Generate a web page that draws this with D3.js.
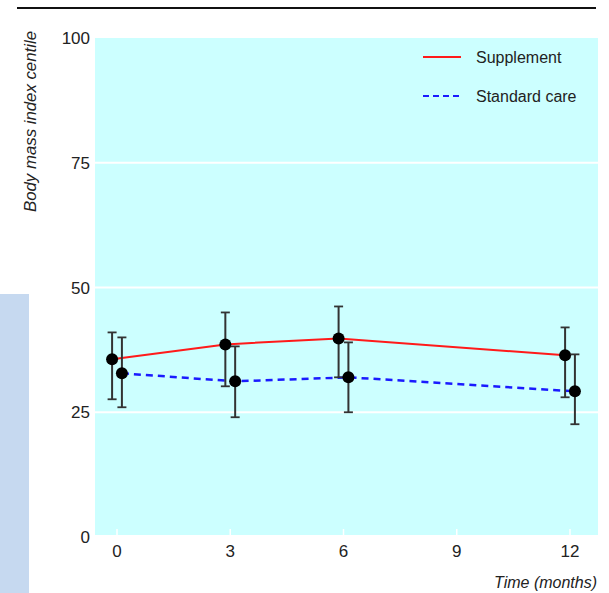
<!DOCTYPE html>
<html>
<head>
<meta charset="utf-8">
<script src="https://cdn.jsdelivr.net/npm/d3@7"></script>
<style>
body { margin: 0; background: #fff; }
svg { display: block; font-family: "Liberation Sans Narrow", "Arial Narrow", "Liberation Sans", sans-serif; }
</style>
</head>
<body>
<div id="chart"></div>
<script>
// data
var months = [0, 3, 6, 12];
var xTicks = [0, 3, 6, 9, 12];
var yTicks = [0, 25, 50, 75, 100];

var supMean = [35.6, 38.6, 39.8, 36.4];
var supHigh = [41, 45, 46.2, 42];
var supLow = [27.6, 30.2, 32, 28];

var stdMean = [32.8, 31.2, 32, 29.2];
var stdHigh = [40, 38.2, 39, 36.6];
var stdLow = [26, 24, 25, 22.6];

var seriesNames = ["Supplement", "Standard care"];

var W = 609, H = 593;
var panel = { left: 95, right: 598, top: 38, bottom: 535 };

var svg = d3.select("#chart").append("svg")
	.attr("width", W)
	.attr("height", H);

// top rule
svg.append("line")
	.attr("x1", 17).attr("x2", 596)
	.attr("y1", 8).attr("y2", 8)
	.style("stroke", "#111")
	.style("stroke-width", 2);

// pale block on the left
svg.append("rect")
	.attr("x", 0).attr("y", 294)
	.attr("width", 29).attr("height", H - 294)
	.style("fill", "#c6d9f0");

var x = d3.scaleLinear().domain([0, 12]).range([117, 570]);
var y = d3.scaleLinear().domain([0, 100]).range([537, 38]);

// panel background
svg.append("rect")
	.attr("x", panel.left).attr("y", panel.top)
	.attr("width", panel.right - panel.left)
	.attr("height", panel.bottom - panel.top)
	.style("fill", "#ccffff");

// white gridlines
svg.selectAll(".grid")
	.data([25, 50, 75])
	.enter().append("line")
	.attr("class", "grid")
	.attr("x1", panel.left).attr("x2", panel.right)
	.attr("y1", function(d) { return y(d); })
	.attr("y2", function(d) { return y(d); })
	.style("stroke", "#fff")
	.style("stroke-width", 2);

// white ticks at bottom of panel
svg.selectAll(".xtick")
	.data(xTicks)
	.enter().append("line")
	.attr("class", "xtick")
	.attr("x1", function(d) { return x(d); })
	.attr("x2", function(d) { return x(d); })
	.attr("y1", panel.bottom - 6).attr("y2", panel.bottom)
	.style("stroke", "#fff")
	.style("stroke-width", 1.5);

// tick labels
svg.selectAll(".xlab")
	.data(xTicks)
	.enter().append("text")
	.attr("class", "xlab")
	.attr("x", function(d) { return x(d); })
	.attr("y", 557)
	.attr("text-anchor", "middle")
	.style("font-size", "17px")
	.style("fill", "#222")
	.text(function(d) { return d; });

svg.selectAll(".ylab")
	.data(yTicks)
	.enter().append("text")
	.attr("class", "ylab")
	.attr("x", 90)
	.attr("y", function(d) { return y(d) + 6; })
	.attr("text-anchor", "end")
	.style("font-size", "17px")
	.style("fill", "#222")
	.text(function(d) { return d; });

// axis titles
svg.append("text")
	.attr("transform", "translate(36,31) rotate(-90)")
	.attr("text-anchor", "end")
	.attr("textLength", 181)
	.attr("lengthAdjust", "spacingAndGlyphs")
	.style("font-size", "17px")
	.style("font-style", "italic")
	.style("fill", "#222")
	.text("Body mass index centile");

svg.append("text")
	.attr("x", 597).attr("y", 588)
	.attr("text-anchor", "end")
	.style("font-size", "16px")
	.style("font-style", "italic")
	.style("fill", "#222")
	.text("Time (months)");

var off = 0.13;
function build(mean, hi, lo, shift) {
	return months.map(function(m, i) {
		return { t: m + shift, v: mean[i], hi: hi[i], lo: lo[i] };
	});
}
var sup = build(supMean, supHigh, supLow, -off);
var std = build(stdMean, stdHigh, stdLow, off);

var line = d3.line()
	.x(function(d) { return x(d.t); })
	.y(function(d) { return y(d.v); });

svg.append("path")
	.datum(sup)
	.attr("d", line)
	.style("fill", "none")
	.style("stroke", "#ff1a1a")
	.style("stroke-width", 2);

svg.append("path")
	.datum(std)
	.attr("d", line)
	.style("fill", "none")
	.style("stroke", "#1a1aff")
	.style("stroke-width", 2.5)
	.style("stroke-dasharray", "7,5");

function errorBars(data, cls) {
	var g = svg.selectAll("." + cls)
		.data(data)
		.enter().append("g")
		.attr("class", cls);
	g.append("line")
		.attr("x1", function(d) { return x(d.t); })
		.attr("x2", function(d) { return x(d.t); })
		.attr("y1", function(d) { return y(d.hi); })
		.attr("y2", function(d) { return y(d.lo); })
		.style("stroke", "#333").style("stroke-width", 2);
	["hi", "lo"].forEach(function(k) {
		g.append("line")
			.attr("x1", function(d) { return x(d.t) - 4.5; })
			.attr("x2", function(d) { return x(d.t) + 4.5; })
			.attr("y1", function(d) { return y(d[k]); })
			.attr("y2", function(d) { return y(d[k]); })
			.style("stroke", "#333").style("stroke-width", 1.8);
	});
	g.append("circle")
		.attr("cx", function(d) { return x(d.t); })
		.attr("cy", function(d) { return y(d.v); })
		.attr("r", 6)
		.style("fill", "#000");
}
errorBars(sup, "supbar");
errorBars(std, "stdbar");

// legend
var legend = [
	{ name: seriesNames[0], color: "#ff1a1a", dash: null, w: 2, yy: 57 },
	{ name: seriesNames[1], color: "#1a1aff", dash: "6,4", w: 2, yy: 96 }
];
legend.forEach(function(l) {
	svg.append("line")
		.attr("x1", 423).attr("x2", 461)
		.attr("y1", l.yy).attr("y2", l.yy)
		.style("stroke", l.color)
		.style("stroke-width", l.w)
		.style("stroke-dasharray", l.dash);
	svg.append("text")
		.attr("x", 476).attr("y", l.yy + 6)
		.style("font-size", "16px")
		.style("fill", "#222")
		.text(l.name);
});
</script>
</body>
</html>
